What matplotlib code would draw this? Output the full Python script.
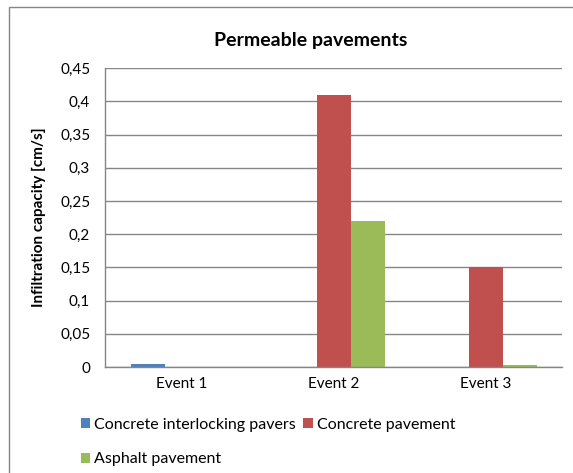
import matplotlib
matplotlib.use("Agg")
import matplotlib.pyplot as plt
import numpy as np
from matplotlib.patches import Rectangle
from matplotlib.ticker import FuncFormatter

plt.rcParams['font.family'] = ['Lato', 'DejaVu Sans']

events = ["Event 1", "Event 2", "Event 3"]
interlocking = [0.005, 0.0, 0.0]
concrete = [0.0, 0.41, 0.15]
asphalt = [0.0, 0.22, 0.003]
y_ticks = [0, 0.05, 0.1, 0.15, 0.2, 0.25, 0.3, 0.35, 0.4, 0.45]

fig = plt.figure(figsize=(5.73, 4.73), dpi=100)
ax = fig.add_axes([0.184, 0.224, 0.797, 0.632])

x = np.arange(len(events))
w = 1 / 4.5
b1 = ax.bar(x - w, interlocking, w, color="#4F81BD", label="Concrete interlocking pavers")
b2 = ax.bar(x, concrete, w, color="#C0504D", label="Concrete pavement")
b3 = ax.bar(x + w, asphalt, w, color="#9BBB59", label="Asphalt pavement")

ax.set_xlim(-0.5, 2.5)
ax.set_ylim(0, 0.45)
ax.set_yticks(y_ticks)
ax.yaxis.set_major_formatter(FuncFormatter(lambda v, p: ("%g" % round(v, 2)).replace(".", ",")))
ax.set_xticks(x)
ax.set_xticklabels(events)
ax.tick_params(axis="x", length=0, pad=7, labelsize=11, colors="#000000")
ax.tick_params(axis="y", length=0, pad=11, labelsize=11)
ax.grid(axis="y", color="#868686", linewidth=1)
ax.set_axisbelow(True)
for s in ["top", "right"]:
    ax.spines[s].set_visible(False)
for s in ["left", "bottom"]:
    ax.spines[s].set_color("#868686")
    ax.spines[s].set_linewidth(1)

ax.set_ylabel("Infiltration capacity [cm/s]", fontsize=11, fontweight="bold", labelpad=10)
fig.text(0.542, 0.915, "Permeable pavements", ha="center", va="center",
         fontsize=14, fontweight="bold")

fig.legend([b1, b3, b2], ["Concrete interlocking pavers", "Asphalt pavement", "Concrete pavement"],
           ncol=2, loc="upper left", bbox_to_anchor=(0.141, 0.117), frameon=False,
           fontsize=11.5, handlelength=0.6, handleheight=0.6, handletextpad=0.25,
           columnspacing=0.45, labelspacing=1.3, borderaxespad=0, borderpad=0)

fig.patches.append(Rectangle((9 / 573, -0.2), 1.2, 1.2 - 7 / 473, transform=fig.transFigure,
                             fill=False, edgecolor="#868686", linewidth=1))

fig.savefig("out.png", dpi=100)
